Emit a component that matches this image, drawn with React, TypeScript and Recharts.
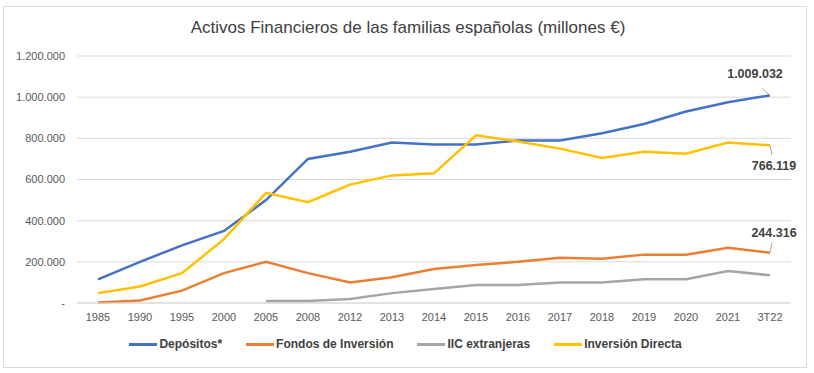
import { LineChart, Line, XAxis, YAxis, CartesianGrid, Legend, LabelList } from 'recharts';

const years = ['1985', '1990', '1995', '2000', '2005', '2008', '2012', '2013', '2014', '2015', '2016', '2017', '2018', '2019', '2020', '2021', '3T22'];
const depositos = [115000, 200000, 280000, 350000, 500000, 700000, 735000, 780000, 770000, 770000, 790000, 790000, 825000, 870000, 930000, 975000, 1009032];
const fondos = [2000, 12000, 60000, 145000, 200000, 145000, 100000, 125000, 165000, 185000, 200000, 220000, 215000, 235000, 235000, 268000, 244316];
const iic = [null, null, null, null, 10000, 10000, 20000, 48000, 68000, 88000, 88000, 100000, 100000, 115000, 115000, 155000, 135000];
const directa = [48000, 80000, 145000, 310000, 535000, 490000, 575000, 620000, 630000, 815000, 785000, 750000, 705000, 735000, 725000, 780000, 766119];
const yTicks = [0, 200000, 400000, 600000, 800000, 1000000, 1200000];

const series = [
	{ key: 'depositos', name: 'Depósitos*', color: '#4472C4' },
	{ key: 'fondos', name: 'Fondos de Inversión', color: '#ED7D31' },
	{ key: 'iic', name: 'IIC extranjeras', color: '#A5A5A5' },
	{ key: 'directa', name: 'Inversión Directa', color: '#FFC000' },
];

const data = years.map((y, i) => ({
	year: y,
	depositos: depositos[i],
	fondos: fondos[i],
	iic: iic[i],
	directa: directa[i],
}));

const FONT = '"Liberation Sans", Arial, sans-serif';
const fmt = (v: number) => (v === 0 ? '-' : String(Math.round(v)).replace(/\B(?=(\d{3})+(?!\d))/g, '.'));
const last = years.length - 1;

// value label at the last point, with a short leader line
const endLabel = (dx: number, dy: number, lx: number, ly: number) => (props: any) => {
	const { x, y, index, value } = props;
	if (index !== last) return null;
	return (
		<g>
			<line x1={x} y1={y} x2={x + lx} y2={y + ly} stroke="#a6a6a6" strokeWidth={1} />
			<text x={x + dx} y={y + dy} textAnchor="middle" fontFamily={FONT} fontSize={12.5} fontWeight="bold" fill="#404040">
				{fmt(value)}
			</text>
		</g>
	);
};

const renderLegend = () => (
	<div style={{ display: 'flex', justifyContent: 'center', alignItems: 'center', height: 20, gap: 24, marginLeft: 16 }}>
		{series.map((s) => (
			<div key={s.key} style={{ display: 'flex', alignItems: 'center' }}>
				<div style={{ width: 28, height: 3, background: s.color, marginRight: 2 }} />
				<span style={{ fontSize: 12, fontWeight: 'bold', color: '#404040', fontFamily: FONT }}>{s.name}</span>
			</div>
		))}
	</div>
);

export default function App() {
	return (
		<div
			style={{
				position: 'absolute',
				left: 3,
				top: 6,
				width: 802,
				height: 360,
				border: '1px solid #d9d9d9',
				background: '#fff',
				fontFamily: FONT,
			}}
		>
			<div
				style={{
					position: 'absolute',
					top: 11,
					left: 0,
					width: 808,
					textAlign: 'center',
					fontSize: 17,
					color: '#404040',
				}}
			>
				Activos Financieros de las familias españolas (millones €)
			</div>
			<LineChart width={802} height={360} data={data} margin={{ top: 49, right: 15, left: 0, bottom: 20 }}>
				<CartesianGrid vertical={false} stroke="#d9d9d9" />
				<XAxis
					dataKey="year"
					axisLine={{ stroke: '#d9d9d9' }}
					tickLine={false}
					tickMargin={4}
					tick={{ fontSize: 11, fill: '#595959', fontFamily: FONT }}
					height={24}
					interval={0}
					padding={{ left: 21, right: 21 }}
				/>
				<YAxis
					domain={[0, 1200000]}
					ticks={yTicks}
					tickFormatter={fmt}
					axisLine={false}
					tickLine={false}
					width={73}
					tick={{ fontSize: 11, fill: '#595959', fontFamily: FONT, dx: -4 }}
				/>
				<Legend verticalAlign="bottom" content={renderLegend} wrapperStyle={{ top: 327, height: 20 }} />
				<Line dataKey="depositos" name="Depósitos*" stroke="#4472C4" strokeWidth={2.5} dot={false} isAnimationActive={false}>
					<LabelList content={endLabel(-15, -17, -8, -7)} />
				</Line>
				<Line dataKey="fondos" name="Fondos de Inversión" stroke="#ED7D31" strokeWidth={2.5} dot={false} isAnimationActive={false}>
					<LabelList content={endLabel(4, -16, 2, -10)} />
				</Line>
				<Line dataKey="iic" name="IIC extranjeras" stroke="#A5A5A5" strokeWidth={2.5} dot={false} isAnimationActive={false} />
				<Line dataKey="directa" name="Inversión Directa" stroke="#FFC000" strokeWidth={2.5} dot={false} isAnimationActive={false}>
					<LabelList content={endLabel(4, 25, 2, 10)} />
				</Line>
			</LineChart>
		</div>
	);
}
